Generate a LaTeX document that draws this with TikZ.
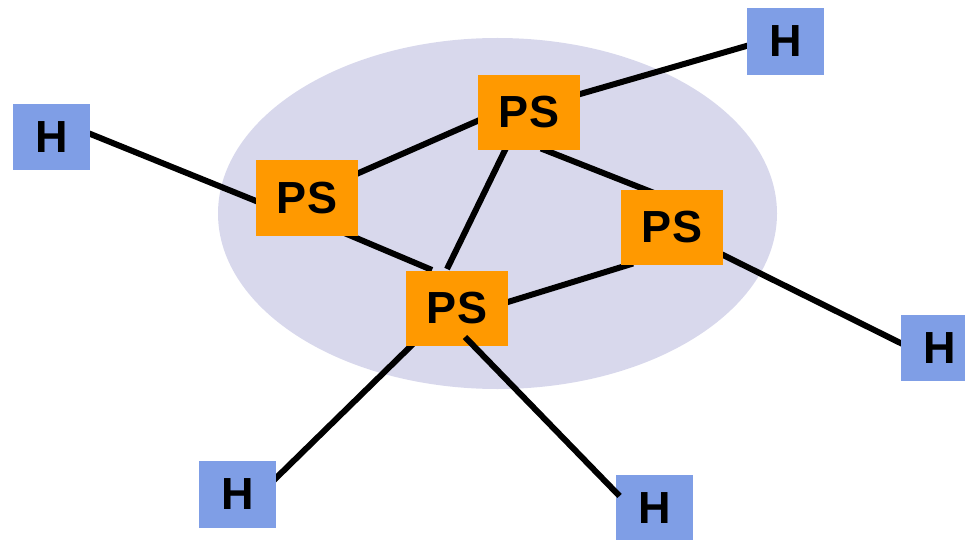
\documentclass[tikz,border=0pt]{standalone}
\usepackage{fontspec}
\setmainfont{Liberation Sans}
\usetikzlibrary{backgrounds}
\definecolor{psorange}{RGB}{255,153,0}
\definecolor{hblue}{RGB}{127,158,230}
\definecolor{cloud}{RGB}{216,216,236}
\tikzset{
  psbox/.style={fill=psorange, draw=none, minimum width=102pt, minimum height=75pt, inner sep=0pt,
    font=\fontsize{45}{45}\selectfont\bfseries},
  hbox/.style={fill=hblue, draw=none, minimum width=77pt, minimum height=66.5pt, inner sep=0pt,
    font=\fontsize{45}{45}\selectfont\bfseries},
  link/.style={line width=6pt, black},
}
\begin{document}
\begin{tikzpicture}[x=1pt,y=1pt]
\clip (0,0) rectangle (965,539);
\path[use as bounding box] (0,0) rectangle (965,539);
\node[hbox] (H1) at (51.5,402) {H};
\node[hbox] (H2) at (785.5,497.5) {H};
\node[hbox] (H3) at (939.5,191) {H};
\node[hbox] (H4) at (237.5,44.5) {H};
\node[hbox] (H5) at (654.5,30.5) {H};
\node[psbox] (PS1) at (529,426.5) {PS};
\node[psbox] (PS2) at (307,341) {PS};
\node[psbox] (PS3) at (672,312) {PS};
\node[psbox] (PS4) at (457,230.5) {PS};
\begin{pgfonlayer}{background}
\fill[cloud] (497.5,325.5) ellipse [x radius=279.5, y radius=175.5];
\draw[link] ([shift={(34,5)}]H1.center) -- ([shift={(-46,-5)}]PS2.center);
\draw[link] ([shift={(46,22.5)}]PS2.center) -- ([shift={(-46,-6)}]PS1.center);
\draw[link] ([shift={(35,-34)}]PS2.center) -- ([shift={(-25,38.5)}]PS4.center);
\draw[link] ([shift={(-22.5,-34.5)}]PS1.center) -- ([shift={(-10,39.5)}]PS4.center);
\draw[link] ([shift={(12,-36)}]PS1.center) -- ([shift={(-18,34)}]PS3.center);
\draw[link] ([shift={(46,17)}]PS1.center) -- ([shift={(-34,-3)}]H2.center);
\draw[link] ([shift={(-39,-36.5)}]PS3.center) -- ([shift={(46,5)}]PS4.center);
\draw[link] ([shift={(46,-25.5)}]PS3.center) -- ([shift={(-34,2.5)}]H3.center);
\draw[link] ([shift={(-42,-33.5)}]PS4.center) -- ([shift={(34,12)}]H4.center);
\end{pgfonlayer}
\draw[link] ([shift={(8,-28.5)}]PS4.center) -- ([shift={(-35,12.5)}]H5.center);
\end{tikzpicture}
\end{document}
